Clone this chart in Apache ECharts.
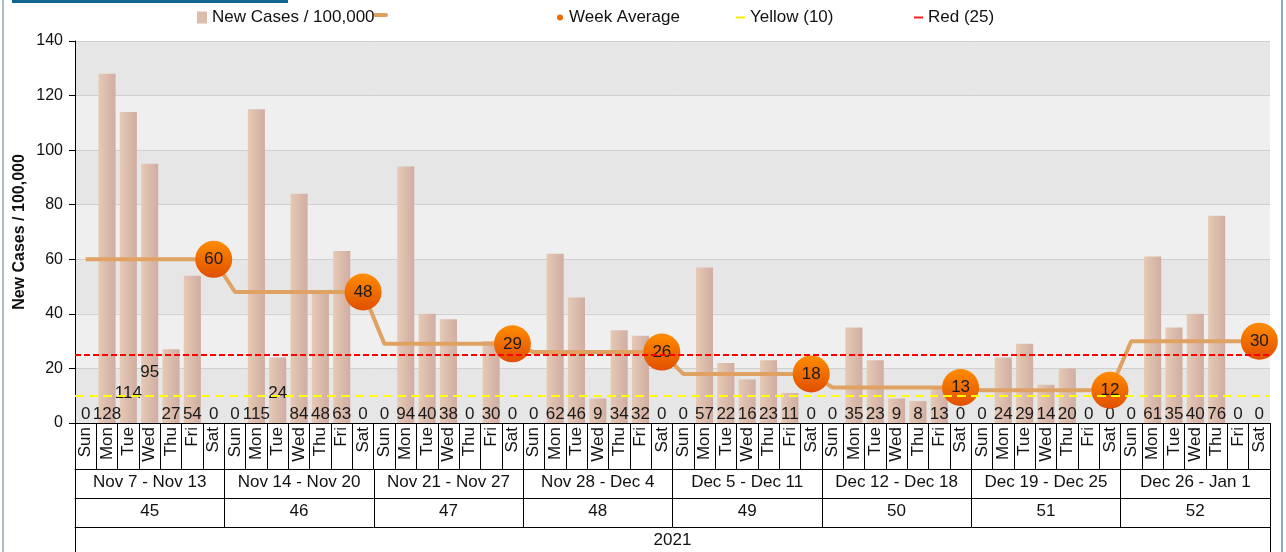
<!DOCTYPE html>
<html>
<head>
<meta charset="utf-8">
<script src="https://cdn.jsdelivr.net/npm/echarts@6/dist/echarts.min.js"></script>
<style>
  html, body { margin: 0; padding: 0; background: #fff; }
  #chart { width: 1286px; height: 552px; }
</style>
</head>
<body>
<div id="chart"></div>
<script>
// data
var dayNames = ['Sun', 'Mon', 'Tue', 'Wed', 'Thu', 'Fri', 'Sat'];
var weekRanges = ['Nov 7 - Nov 13', 'Nov 14 - Nov 20', 'Nov 21 - Nov 27', 'Nov 28 - Dec 4',
  'Dec 5 - Dec 11', 'Dec 12 - Dec 18', 'Dec 19 - Dec 25', 'Dec 26 - Jan 1'];
var weekNumbers = ['45', '46', '47', '48', '49', '50', '51', '52'];
var years = ['2021'];
var newCases = [
  0, 128, 114, 95, 27, 54, 0,
  0, 115, 24, 84, 48, 63, 0,
  0, 94, 40, 38, 0, 30, 0,
  0, 62, 46, 9, 34, 32, 0,
  0, 57, 22, 16, 23, 11, 0,
  0, 35, 23, 9, 8, 13, 0,
  0, 24, 29, 14, 20, 0, 0,
  0, 61, 35, 40, 76, 0, 0
];
var weekAverage = [60, 48, 29, 26, 18, 13, 12, 30];
var yellowLevel = 10;
var redLevel = 25;
var yTicks = { min: 0, max: 140, interval: 20 };

// one category per day, week average repeated over its week
var dayCategories = [];
var avgPerDay = [];
weekAverage.forEach(function(avg) {
  dayNames.forEach(function(d) {
    dayCategories.push(d);
    avgPerDay.push(avg);
  });
});

var font = 'Liberation Sans, Arial, sans-serif';
var txt = '#111';

// push bar labels up when they run into the previous one
var placed = [];
function barLabelLayout(params) {
  if (params.dataIndex === 0) placed = [];
  var r = params.labelRect;
  var prev = placed[placed.length - 1];
  var level = 0;
  if (prev && r.x < prev.x + prev.width) level = prev.level + 1;
  placed.push({ x: r.x, width: r.width, level: level });
  return { dy: -21 * level };
}

var barColor = new echarts.graphic.LinearGradient(0, 0, 1, 0, [
  { offset: 0, color: '#e6c9b5' },
  { offset: 1, color: '#d0ada2' }
]);
var ballColor = new echarts.graphic.LinearGradient(0, 0, 0, 1, [
  { offset: 0, color: '#ff8c00' },
  { offset: 1, color: '#e04f00' }
]);

function isSat(i) { return i % 7 === 6; }

var tableAxis = function(data, offset, tickLen, margin) {
  return {
    type: 'category',
    gridIndex: 0,
    position: 'bottom',
    offset: offset,
    data: data,
    axisLine: { show: true, lineStyle: { color: '#000', width: 1 } },
    axisTick: { show: true, interval: 0, length: tickLen, lineStyle: { color: '#000', width: 1 } },
    axisLabel: { interval: 0, margin: margin, fontSize: 17, fontFamily: font, color: txt },
    splitLine: { show: false }
  };
};

var chart = echarts.init(document.getElementById('chart'));
var option = {
  animation: false,
  textStyle: { fontFamily: font },
  grid: { left: 75, right: 16, top: 41, bottom: 129, outerBoundsMode: 'none', containLabel: false },
  legend: [
    { data: [{ name: 'New Cases / 100,000', icon: 'rect', itemStyle: { color: '#dcbdab' } }],
      left: 197, top: 9, padding: 0, itemWidth: 10, itemHeight: 12,
      textStyle: { fontSize: 17, fontFamily: font, color: txt } },
    { data: [{ name: 'Week Average', icon: 'circle', itemStyle: { color: '#f06a00' } }],
      left: 557, top: 9, padding: 0, itemWidth: 8, itemHeight: 6,
      textStyle: { fontSize: 17, fontFamily: font, color: txt } },
    { data: [{ name: 'Yellow (10)', icon: 'rect', itemStyle: { color: '#f5f000' } }],
      left: 736, top: 9, padding: 0, itemWidth: 9, itemHeight: 2,
      textStyle: { fontSize: 17, fontFamily: font, color: txt } },
    { data: [{ name: 'Red (25)', icon: 'rect', itemStyle: { color: '#ff2020' } }],
      left: 914, top: 9, padding: 0, itemWidth: 9, itemHeight: 2,
      textStyle: { fontSize: 17, fontFamily: font, color: txt } }
  ],
  graphic: [
    { type: 'rect', left: 2, top: 0, shape: { width: 2, height: 552 }, style: { fill: '#a9bcd2' }, silent: true },
    { type: 'rect', left: 1281, top: 0, shape: { width: 2, height: 552 }, style: { fill: '#8aa6c4' }, silent: true },
    { type: 'rect', left: 12, top: 0, shape: { width: 276, height: 3 }, style: { fill: '#0f6690' }, silent: true },
    { type: 'rect', left: 373, top: 13, shape: { width: 15, height: 4, r: 2 }, style: { fill: '#e0a060' }, silent: true }
  ],
  xAxis: [
    {
      type: 'category',
      gridIndex: 0,
      position: 'bottom',
      data: dayCategories,
      axisLine: { show: true, lineStyle: { color: '#000', width: 1 } },
      axisTick: { show: true, interval: 0, length: 46, lineStyle: { color: '#000', width: 1 } },
      axisLabel: { interval: 0, rotate: 90, margin: 4, fontSize: 17, fontFamily: font, color: txt },
      splitLine: { show: false }
    },
    tableAxis(weekRanges, 46, 29, 5),
    tableAxis(weekNumbers, 75, 29, 5),
    tableAxis(years, 104, 30, 5)
  ],
  yAxis: {
    type: 'value',
    min: yTicks.min,
    max: yTicks.max,
    interval: yTicks.interval,
    name: 'New Cases / 100,000',
    nameLocation: 'middle',
    nameGap: 47,
    nameMoveOverlap: false,
    nameTextStyle: { fontSize: 16, fontWeight: 'bold', fontFamily: font, color: txt },
    axisLine: { show: true, lineStyle: { color: '#000', width: 1 } },
    axisTick: { show: true, length: 6, lineStyle: { color: '#000' } },
    axisLabel: { margin: 12, fontSize: 16, fontFamily: font, color: txt },
    splitLine: { show: true, lineStyle: { color: '#cfcfcf', width: 1 } },
    splitArea: { show: true, areaStyle: { color: ['#e6e6e6', '#efefef'] } }
  },
  series: [
    {
      name: 'New Cases / 100,000',
      type: 'bar',
      xAxisIndex: 0,
      data: newCases,
      barWidth: '80%',
      itemStyle: { color: barColor },
      label: {
        show: true,
        position: 'insideBottom',
        distance: 0,
        offset: [0, 3],
        fontSize: 17,
        fontFamily: font,
        color: '#1a1a1a'
      },
      labelLayout: barLabelLayout,
      z: 2
    },
    {
      name: 'Week Average',
      type: 'line',
      xAxisIndex: 0,
      data: avgPerDay,
      symbol: function(v, p) { return isSat(p.dataIndex) ? 'circle' : 'none'; },
      symbolSize: 37,
      showAllSymbol: true,
      lineStyle: { color: '#e0a262', width: 4 },
      itemStyle: { color: ballColor },
      label: {
        show: true,
        position: 'inside',
        fontSize: 17,
        fontFamily: font,
        color: '#1a1a1a',
        formatter: function(p) { return isSat(p.dataIndex) ? String(p.value) : ''; }
      },
      z: 3
    },
    {
      name: 'Yellow (10)',
      type: 'line',
      data: [],
      color: '#f5f000',
      itemStyle: { color: '#f5f000' },
      lineStyle: { color: '#f5f000' },
      markLine: {
        silent: true,
        symbol: 'none',
        label: { show: false },
        itemStyle: { color: '#ffff00' },
        lineStyle: { color: '#ffff00', type: [9, 5], width: 2 },
        emphasis: { disabled: true },
        data: [{ yAxis: yellowLevel }]
      },
      z: 5
    },
    {
      name: 'Red (25)',
      type: 'line',
      data: [],
      color: '#ff0000',
      itemStyle: { color: '#ff0000' },
      lineStyle: { color: '#ff0000' },
      markLine: {
        silent: true,
        symbol: 'none',
        label: { show: false },
        itemStyle: { color: '#ff0000' },
        lineStyle: { color: '#ff0000', type: [6, 3], width: 2, opacity: 1 },
        emphasis: { disabled: true },
        data: [{ yAxis: redLevel }]
      },
      z: 5
    }
  ]
};
chart.setOption(option);
</script>
</body>
</html>
